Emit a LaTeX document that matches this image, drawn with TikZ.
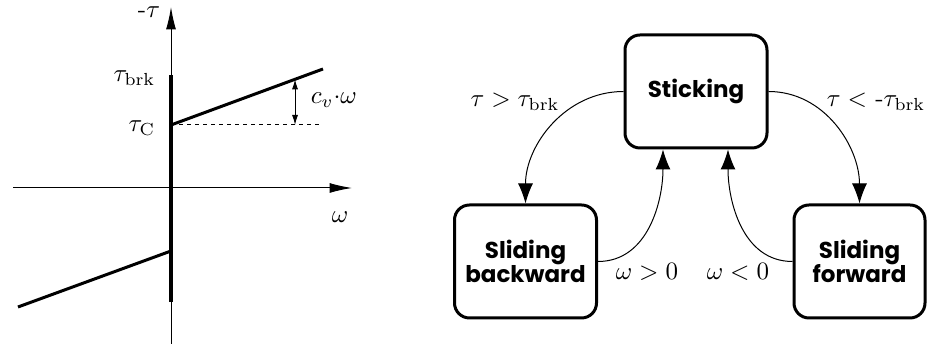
\documentclass[tikz,border=0pt]{standalone}
\usepackage{fontspec}
\newfontfamily\statefont{Poppins}
\usetikzlibrary{positioning,arrows.meta,calc}
\tikzset{
  state/.style={draw=black, line width=1.2pt, rounded corners=6pt, align=center,
    minimum width=56.8pt, minimum height=45.2pt, inner sep=2pt,
    font=\statefont\bfseries\fontsize{9.2}{9.8}\selectfont},
  trans/.style={-{Latex[length=8pt,width=6pt]}, line width=0.4pt},
  axis/.style={-{Latex[length=9pt,width=4pt]}, line width=0.4pt},
  gap/.style={{Latex[length=4pt,width=2.4pt]}-{Latex[length=4pt,width=2.4pt]}, line width=0.4pt},
  branch/.style={line width=1.2pt},
  stall/.style={line width=1.6pt}
}
\begin{document}
\begin{tikzpicture}[x=0.4pt, y=-0.4pt]
    \useasboundingbox (0,0) rectangle (928,344);

    % friction characteristic
    \coordinate (ytop) at (171,7);
    \coordinate (ybot) at (171,344);
    \coordinate (xleft) at (13,188);
    \coordinate (xright) at (352,188);
    \coordinate (brk) at (171,75);
    \coordinate (nbrk) at (171,302);
    \coordinate (tC) at (171,125);
    \coordinate (ntC) at (171,251);
    \coordinate (upend) at (323,69);
    \coordinate (lowend) at (18,307);
    \coordinate (dashend) at (323,125);
    \coordinate (gtop) at ($(tC)!0.816!(upend)$);
    \coordinate (gbot) at ($(tC)!0.816!(dashend)$);

    \draw[axis] (ybot) -- (ytop);
    \draw[axis] (xleft) -- (xright);
    \draw[stall] (nbrk) -- (brk);
    \draw[branch] (tC) -- (upend);
    \draw[branch] (ntC) -- (lowend);
    \draw[dash pattern=on 1.6pt off 1.6pt, line width=0.4pt] (tC) -- (dashend);
    \draw[gap] (gtop) -- (gbot);

    \node (ylab) at (149,12) {-$\tau$};
    \node (xlab) at (340,217) {$\omega$};
    \node[anchor=east] (tbrk) at (164,78) {$\tau_{\mathrm{brk}}$};
    \node[anchor=east] (tclab) at (164,128) {$\tau_{\mathrm{C}}$};
    \node[anchor=west] (gaplab) at (302,100) {$c_v{\cdot}\omega$};

    % stick-slip states
    \node[state] (stick) at (696,91.5) {Sticking};
    \node[state] (bwd) at (525.5,261.5) {Sliding\\backward};
    \node[state, minimum width=52.4pt] (fwd) at (859.5,261.5) {Sliding\\forward};

    \draw[trans] (stick.west) to[out=180,in=90] (bwd.north);
    \draw[trans] (stick.east) to[out=0,in=90] (fwd.north);
    \draw[trans] (bwd.east) to[out=0,in=-90] ($(stick.south)+(-33,0)$);
    \draw[trans] (fwd.west) to[out=180,in=-90] ($(stick.south)+(32,0)$);

    \node (l1) at (515,102) {$\tau > \tau_{\mathrm{brk}}$};
    \node (l2) at (876,102) {$\tau <$ -$\tau_{\mathrm{brk}}$};
    \node (l3) at (647,272) {$\omega > 0$};
    \node (l4) at (738,272) {$\omega < 0$};

\end{tikzpicture}
\end{document}
